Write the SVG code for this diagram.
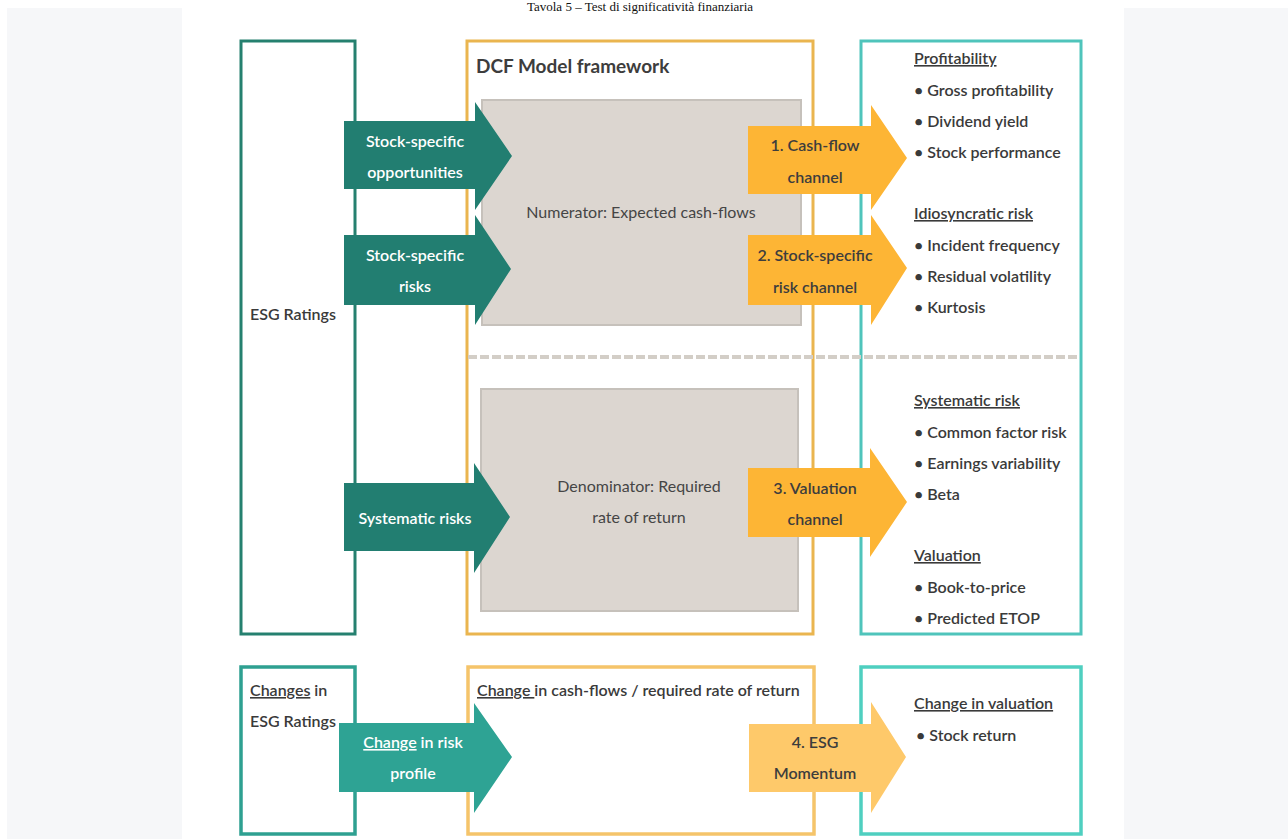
<svg xmlns="http://www.w3.org/2000/svg" width="1288" height="839" viewBox="0 0 1288 839">
<style>
  .t { font-family: Lato, "Liberation Sans", sans-serif; }
  .w { fill: #ffffff; font-size: 16px; text-anchor: middle; font-weight: 600; }
  .d { fill: #3d3d3d; font-size: 16px; text-anchor: middle; font-weight: 600; }
  .g { fill: #454545; font-size: 16px; text-anchor: middle; }
  .r { fill: #3a3a3a; font-size: 16px; font-weight: 600; }
  .u { text-decoration: underline; }
  .gray { fill: #dcd6d0; stroke: #c6c1bb; stroke-width: 2; }
  .tealA { fill: #227e71; }
  .orA { fill: #fdb535; }
</style>
<rect x="0" y="0" width="1288" height="839" fill="#ffffff"/>
<rect x="7" y="8" width="175" height="831" fill="#f6f7f9"/>
<rect x="1124" y="8" width="164" height="831" fill="#f6f7f9"/>
<text x="640" y="11" font-family="'Liberation Serif', serif" font-size="13" fill="#111" text-anchor="middle">Tavola 5 – Test di significatività finanziaria</text>

<g id="esg-ratings">
  <rect x="241" y="41" width="114" height="593" fill="#fff" stroke="#25806f" stroke-width="3"/>
  <text class="t r" x="250" y="320">ESG Ratings</text>
</g>
<g id="dcf-framework">
  <rect x="467" y="41" width="346" height="593" fill="#fff" stroke="#eab54f" stroke-width="3"/>
  <text class="t" x="476" y="73" font-size="19" font-weight="bold" fill="#3d3d3d">DCF Model framework</text>
</g>
<g id="outcomes">
  <rect x="861" y="41" width="220" height="593" fill="#fff" stroke="#4fc4bb" stroke-width="3"/>
  <text class="t r u" x="914" y="64">Profitability</text>
  <text class="t r" x="914" y="96">• Gross profitability</text>
  <text class="t r" x="914" y="127">• Dividend yield</text>
  <text class="t r" x="914" y="158">• Stock performance</text>
  <text class="t r u" x="914" y="219">Idiosyncratic risk</text>
  <text class="t r" x="914" y="251">• Incident frequency</text>
  <text class="t r" x="914" y="282">• Residual volatility</text>
  <text class="t r" x="914" y="313">• Kurtosis</text>
  <text class="t r u" x="914" y="406">Systematic risk</text>
  <text class="t r" x="914" y="438">• Common factor risk</text>
  <text class="t r" x="914" y="469">• Earnings variability</text>
  <text class="t r" x="914" y="500">• Beta</text>
  <text class="t r u" x="914" y="561">Valuation</text>
  <text class="t r" x="914" y="593">• Book-to-price</text>
  <text class="t r" x="914" y="624">• Predicted ETOP</text>
</g>
<g id="numerator">
  <rect class="gray" x="482" y="100" width="319" height="225"/>
  <text class="t g" x="641" y="218">Numerator: Expected cash-flows</text>
</g>
<g id="denominator">
  <rect class="gray" x="481" y="389" width="317" height="222"/>
  <text class="t g" x="639" y="492">Denominator: Required</text>
  <text class="t g" x="639" y="523">rate of return</text>
</g>
<g id="divider">
  <line x1="468" y1="357" x2="1080" y2="357" stroke="#d3cec7" stroke-width="4" stroke-dasharray="9 3"/>
</g>

<g id="changes-esg">
  <rect x="241" y="667" width="114" height="167" fill="#fff" stroke="#2ea091" stroke-width="3.5"/>
  <text class="t r" x="250" y="696"><tspan class="u">Changes</tspan> in</text>
  <text class="t r" x="250" y="727">ESG Ratings</text>
</g>
<g id="change-cashflows">
  <rect x="468" y="667" width="346" height="167" fill="#fff" stroke="#f5c46a" stroke-width="3.5"/>
  <text class="t r" x="477" y="696" font-size="15"><tspan class="u">Change </tspan>in cash-flows / required rate of return</text>
</g>
<g id="change-valuation">
  <rect x="861" y="667" width="220" height="167" fill="#fff" stroke="#4fcfc0" stroke-width="3.5"/>
  <text class="t r u" x="914" y="709">Change in valuation</text>
  <text class="t r" x="916" y="741">•  Stock return</text>
</g>

<g id="connectors">
  <polygon class="tealA" points="344,121 475,121 475,102 512,156 475,210 475,189 344,189"/>
  <text class="t w" x="415" y="147">Stock-specific</text>
  <text class="t w" x="415" y="178">opportunities</text>
  <polygon class="tealA" points="344,235 475,235 475,215 511,269 475,325 475,305 344,305"/>
  <text class="t w" x="415" y="261">Stock-specific</text>
  <text class="t w" x="415" y="292">risks</text>
  <polygon class="tealA" points="344,483 474,483 474,463 510,517 474,573 474,551 344,551"/>
  <text class="t w" x="415" y="524">Systematic risks</text>

  <polygon class="orA" points="748,126 871,126 871,105 907,158 871,210 871,194 748,194"/>
  <text class="t d" x="815" y="151">1. Cash-flow</text>
  <text class="t d" x="815" y="183">channel</text>
  <polygon class="orA" points="748,235 871,235 871,215 907,268 871,325 871,305 748,305"/>
  <text class="t d" x="815" y="261">2. Stock-specific</text>
  <text class="t d" x="815" y="293">risk channel</text>
  <polygon class="orA" points="748,468 870,468 870,448 907,502 870,557 870,537 748,537"/>
  <text class="t d" x="815" y="494">3. Valuation</text>
  <text class="t d" x="815" y="525">channel</text>

  <polygon fill="#2ea394" points="339,723 474,723 474,703 512,757 474,813 474,792 339,792"/>
  <text class="t w" x="413" y="748"><tspan class="u">Change</tspan> in risk</text>
  <text class="t w" x="413" y="779">profile</text>
  <polygon fill="#fec96a" points="749,724 871,724 871,702 906,757 871,813 871,792 749,792"/>
  <text class="t d" x="815" y="748">4. ESG</text>
  <text class="t d" x="815" y="779">Momentum</text>
</g>
</svg>
